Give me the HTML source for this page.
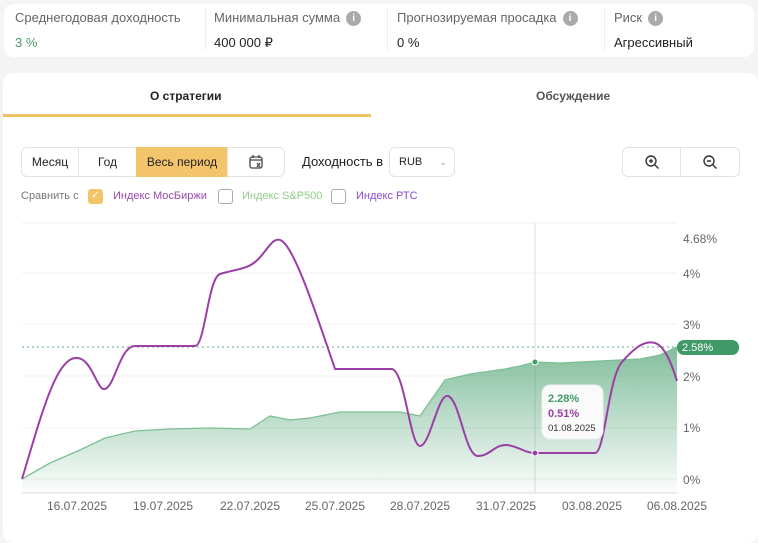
<!DOCTYPE html>
<html><head><meta charset="utf-8"><style>
*{box-sizing:border-box;margin:0;padding:0}
body{width:758px;height:538px;background:#f4f4f4;font-family:"Liberation Sans",sans-serif;position:relative;overflow:hidden;color:#222}
.card{position:absolute;background:#fff;border-radius:10px}
.lbl{position:absolute;font-size:13px;color:#666}
.val{position:absolute;font-size:13px;color:#222}
.sep{position:absolute;top:8px;width:1px;height:42px;background:#eee}
.i{display:inline-block;width:15px;height:15px;border-radius:50%;background:#aaa;color:#fff;font-size:10px;text-align:center;line-height:15px;font-weight:bold;vertical-align:1px;margin-left:6px}
.btn{position:absolute;height:30px;border:1px solid #e3e3e3;font-size:12px;display:flex;align-items:center;justify-content:center}
.cb{position:absolute;top:189px;width:15px;height:15px;border:1.5px solid #aaa;border-radius:3px}
</style></head><body>
<div class="card" style="left:4px;top:4px;width:750px;height:53px"></div>
<div class="lbl" style="left:15px;top:10px">Среднегодовая доходность</div>
<div class="val" style="left:15px;top:35px;color:#4a9a6a">3 %</div>
<div class="sep" style="left:205px"></div>
<div class="lbl" style="left:214px;top:10px">Минимальная сумма<span class="i">i</span></div>
<div class="val" style="left:214px;top:35px">400 000 ₽</div>
<div class="sep" style="left:387px"></div>
<div class="lbl" style="left:397px;top:10px">Прогнозируемая просадка<span class="i">i</span></div>
<div class="val" style="left:397px;top:35px">0 %</div>
<div class="sep" style="left:604px"></div>
<div class="lbl" style="left:614px;top:10px">Риск<span class="i">i</span></div>
<div class="val" style="left:614px;top:35px">Агрессивный</div>

<div class="card" style="left:3px;top:73px;width:755px;height:470px"></div>
<div style="position:absolute;left:150px;top:89px;font-size:12px;font-weight:bold">О стратегии</div>
<div style="position:absolute;left:536px;top:89px;font-size:12px;font-weight:bold;color:#555">Обсуждение</div>
<div style="position:absolute;left:3px;top:114px;width:368px;height:3px;background:#f0c163"></div>

<div class="btn" style="left:21px;top:147px;width:58px;border-radius:6px 0 0 6px">Месяц</div>
<div class="btn" style="left:78px;top:147px;width:59px">Год</div>
<div class="btn" style="left:136px;top:147px;width:92px;background:#f4c46a;border-color:#f4c46a">Весь период</div>
<div class="btn" style="left:227px;top:147px;width:58px;border-radius:0 6px 6px 0">
<svg width="16" height="16" viewBox="0 0 16 16" fill="none" stroke="#444" stroke-width="1.3"><rect x="2" y="3" width="12" height="11" rx="2"/><path d="M2 6h12M5 1v3M11 1v3M9 9l3 4M12 9l-3 4"/></svg></div>
<div style="position:absolute;left:302px;top:154px;font-size:13px">Доходность в</div>
<div class="btn" style="left:389px;top:147px;width:66px;border-radius:6px;justify-content:flex-start;padding-left:9px;font-size:11px">RUB<span style="margin-left:17px;color:#999;font-size:9px">⌄</span></div>
<div class="btn" style="left:622px;top:147px;width:59px;border-radius:6px 0 0 6px">
<svg width="16" height="16" viewBox="0 0 16 16" fill="none" stroke="#333" stroke-width="1.4"><circle cx="7" cy="7" r="5"/><path d="M11 11l3.5 3.5M5 7h4M7 5v4"/></svg></div>
<div class="btn" style="left:680px;top:147px;width:60px;border-radius:0 6px 6px 0">
<svg width="16" height="16" viewBox="0 0 16 16" fill="none" stroke="#333" stroke-width="1.4"><circle cx="7" cy="7" r="5"/><path d="M11 11l3.5 3.5M5 7h4"/></svg></div>

<div style="position:absolute;left:21px;top:190px;font-size:11px;color:#777">Сравнить с</div>
<div class="cb" style="left:88px;background:#f4c46a;border-color:#f4c46a;color:#fff;font-size:10px;text-align:center;line-height:12px">✓</div>
<div style="position:absolute;left:113px;top:190px;font-size:11px;color:#9a4ab0">Индекс МосБиржи</div>
<div class="cb" style="left:218px"></div>
<div style="position:absolute;left:242px;top:190px;font-size:11px;color:#8fcc88">Индекс S&amp;P500</div>
<div class="cb" style="left:331px"></div>
<div style="position:absolute;left:356px;top:190px;font-size:11px;color:#8a4ad0">Индекс РТС</div>

<svg style="position:absolute;left:0;top:0" width="758" height="538">
<defs><linearGradient id="g" x1="0" y1="0" x2="0" y2="1"><stop offset="0" stop-color="#3f9a68" stop-opacity=".65"/><stop offset="1" stop-color="#3f9a68" stop-opacity=".02"/></linearGradient></defs>
<g stroke="#f0f0f0" stroke-width="1">
<line x1="22" y1="223" x2="677" y2="223"/><line x1="22" y1="273" x2="677" y2="273"/><line x1="22" y1="324" x2="677" y2="324"/><line x1="22" y1="376" x2="677" y2="376"/><line x1="22" y1="428" x2="677" y2="428"/><line x1="22" y1="479" x2="677" y2="479"/></g>
<line x1="22" y1="493" x2="677" y2="493" stroke="#ddd"/>
<line x1="535" y1="223" x2="535" y2="493" stroke="#ddd"/>
<line x1="22" y1="347" x2="677" y2="347" stroke="#5aa87c" stroke-dasharray="2 3"/>
<path d="M22,479 L50,463 80,450 105,438 135,431 170,429 210,428 250,429 270,416 290,420 310,418 340,412 400,412 420,416 445,380 470,374 505,369 520,366 535,362 560,363 600,361 640,359 660,355 677,347 L677,493 L22,493Z" fill="url(#g)"/>
<polyline fill="none" stroke="#7cc094" stroke-width="1.3" points="22,479 50,463 80,450 105,438 135,431 170,429 210,428 250,429 270,416 290,420 310,418 340,412 400,412 420,416 445,380 470,374 505,369 520,366 535,362 560,363 600,361 640,359 660,355 677,347"/>
<path fill="none" stroke="#9b3fa6" stroke-width="2" stroke-linejoin="round" d="M22,479 C40,420 55,360 75,358 C92,356 97,392 105,389 C115,386 120,346 135,346 L195,346 C205,346 208,278 220,274 C240,268 250,270 262,255 C270,245 275,236 282,241 C295,250 315,310 335,369 L392,369 C405,372 410,446 420,446 C430,446 438,393 448,396 C460,400 465,456 478,456 C490,456 495,444 507,445 C520,447 525,453 535,453 L595,453 C605,453 608,378 622,362 C635,347 645,340 655,343 C665,346 672,365 677,381"/>
<circle cx="535" cy="362" r="3" fill="#3f9a68" stroke="#fff"/>
<circle cx="535" cy="453" r="3" fill="#9b3fa6" stroke="#fff"/>
<g font-family="Liberation Sans" font-size="12" fill="#666">
<text x="683" y="243">4.68%</text><text x="683" y="278">4%</text><text x="683" y="329">3%</text><text x="683" y="381">2%</text><text x="683" y="432">1%</text><text x="683" y="484">0%</text>
<text x="77" y="510" text-anchor="middle">16.07.2025</text><text x="163" y="510" text-anchor="middle">19.07.2025</text><text x="250" y="510" text-anchor="middle">22.07.2025</text><text x="335" y="510" text-anchor="middle">25.07.2025</text><text x="420" y="510" text-anchor="middle">28.07.2025</text><text x="506" y="510" text-anchor="middle">31.07.2025</text><text x="592" y="510" text-anchor="middle">03.08.2025</text><text x="677" y="510" text-anchor="middle">06.08.2025</text></g>
<rect x="677" y="340" width="62" height="15" rx="7" fill="#3f9a68"/>
<text x="682" y="351" font-family="Liberation Sans" font-size="11" fill="#fff">2.58%</text>
<rect x="542" y="385" width="61" height="54" rx="8" fill="#fafafa" stroke="#eee"/>
<text x="548" y="402" font-family="Liberation Sans" font-size="11" fill="#3f9a68" font-weight="bold">2.28%</text>
<text x="548" y="417" font-family="Liberation Sans" font-size="11" fill="#9b3fa6" font-weight="bold">0.51%</text>
<text x="548" y="431" font-family="Liberation Sans" font-size="9.5" fill="#333">01.08.2025</text>
</svg>
</body></html>
